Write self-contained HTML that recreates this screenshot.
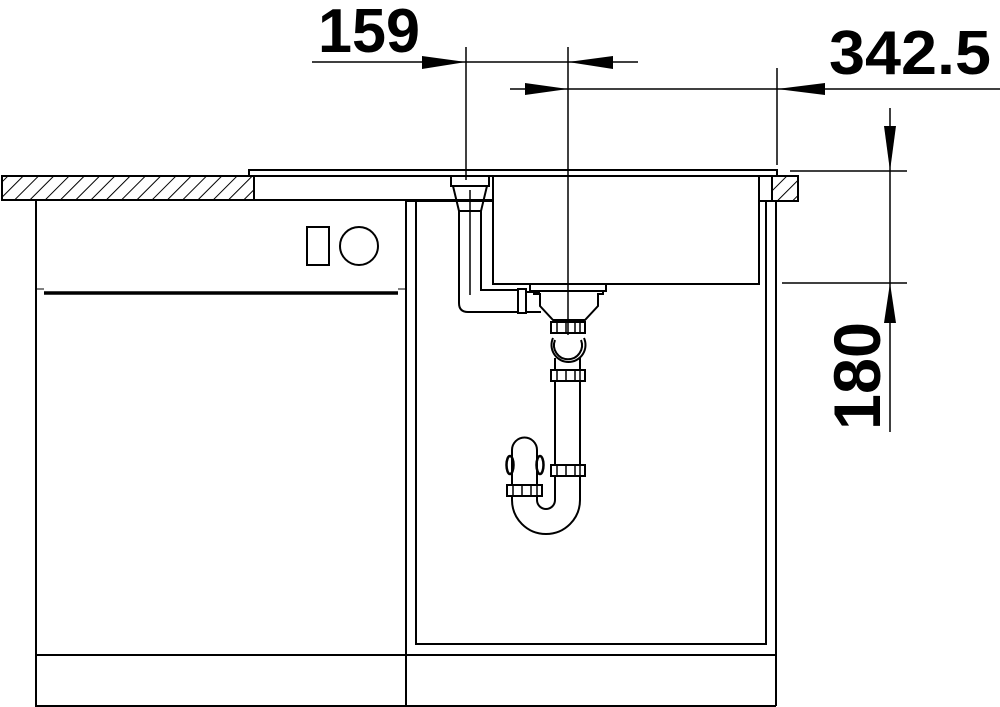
<!DOCTYPE html>
<html><head><meta charset="utf-8"><style>
html,body{margin:0;padding:0;background:#fff}
svg{display:block}
text{font-family:"Liberation Sans",Arial,sans-serif;font-weight:bold;fill:#000}
</style></head><body>
<svg width="1000" height="707" viewBox="0 0 1000 707" xmlns="http://www.w3.org/2000/svg">
<defs>
<pattern id="h" patternUnits="userSpaceOnUse" width="10.8" height="10.8" patternTransform="rotate(45)">
<rect width="10.8" height="10.8" fill="#fff"/><line x1="0" y1="0" x2="0" y2="10.8" stroke="#000" stroke-width="2"/>
</pattern>
</defs>
<g fill="none" stroke="#000" stroke-width="2">
<rect x="2" y="176" width="252" height="24" fill="url(#h)"/>
<rect x="772" y="176" width="26" height="25" fill="url(#h)"/>
<rect x="759" y="176" width="13" height="25"/>
<polyline points="249,176 249,170 777,170 777,176"/>
<line x1="249" y1="176" x2="759" y2="176"/>
<line x1="254" y1="200" x2="493" y2="200"/>
<polyline points="36,200 36,706 406,706"/>
<line x1="36" y1="655" x2="776" y2="655"/>
<line x1="406" y1="200" x2="406" y2="706"/>
<line x1="44" y1="293" x2="398" y2="293" stroke-width="3.5"/>
<line x1="36" y1="289" x2="44" y2="289" stroke-width="1"/>
<line x1="398" y1="289" x2="406" y2="289" stroke-width="1"/>
<rect x="307" y="227" width="22" height="38"/>
<circle cx="359" cy="246" r="19"/>
<polyline points="416,201 416,644 766,644 766,201"/>
<line x1="776" y1="201" x2="776" y2="706"/>
<line x1="406" y1="201" x2="493" y2="201"/>
<line x1="36" y1="706" x2="776" y2="706"/>
<polyline points="493,176 493,284 759,284 759,176"/>
<rect x="451" y="176" width="38" height="10"/>
<polyline points="453,186 459,211 481,211 487,186"/>
<path d="M459,211 V303 Q459,312 468,312 H518"/>
<path d="M481,211 V290 H518"/>
<rect x="518" y="289" width="8" height="24"/>
<line x1="526" y1="292" x2="540" y2="292"/>
<line x1="526" y1="312" x2="541" y2="312"/>
<line x1="470" y1="190" x2="470" y2="295" stroke-width="1.5"/>
<rect x="530" y="284" width="76" height="7"/>
<path d="M534,291 V294 H540 V306 L553,320 H585 L598,306 V294 H603 V291"/>
<g stroke-width="2">
<rect x="551" y="322" width="34" height="11"/>
<rect x="551" y="370" width="34" height="11"/>
<rect x="551" y="465" width="34" height="11"/>
<rect x="507" y="485" width="35" height="11"/>
</g>
<g stroke-width="1.5">
<line x1="557" y1="322" x2="557" y2="333"/><line x1="566" y1="322" x2="566" y2="333"/><line x1="575" y1="322" x2="575" y2="333"/><line x1="580" y1="322" x2="580" y2="333"/>
<line x1="557" y1="370" x2="557" y2="381"/><line x1="566" y1="370" x2="566" y2="381"/><line x1="575" y1="370" x2="575" y2="381"/><line x1="580" y1="370" x2="580" y2="381"/>
<line x1="557" y1="465" x2="557" y2="476"/><line x1="566" y1="465" x2="566" y2="476"/><line x1="575" y1="465" x2="575" y2="476"/><line x1="580" y1="465" x2="580" y2="476"/>
<line x1="513" y1="485" x2="513" y2="496"/><line x1="522" y1="485" x2="522" y2="496"/><line x1="531" y1="485" x2="531" y2="496"/><line x1="537" y1="485" x2="537" y2="496"/>
</g>
<path d="M553,338 A17,17 0 1 0 584,338"/>
<path d="M555,340 A14,14 0 1 0 581,340"/>
<line x1="555" y1="358" x2="555" y2="370"/><line x1="580" y1="358" x2="580" y2="370"/>
<line x1="555" y1="381" x2="555" y2="465"/><line x1="580" y1="381" x2="580" y2="465"/>
<line x1="555" y1="476" x2="555" y2="500"/><line x1="580" y1="476" x2="580" y2="500"/>
<path d="M512,496 V500 A34,34 0 0 0 580,500"/>
<path d="M537,496 V500 A9,9 0 0 0 555,500"/>
<path d="M512,485 V450 A12.5,12.5 0 0 1 537,450 V485"/>
<ellipse cx="510" cy="465" rx="3.5" ry="9" stroke-width="2.5"/>
<ellipse cx="540" cy="465" rx="3.5" ry="9" stroke-width="2.5"/>
<g stroke-width="1.5">
<line x1="312" y1="62" x2="638" y2="62"/>
<line x1="466" y1="47" x2="466" y2="180"/>
<line x1="568" y1="47" x2="568" y2="335"/>
<line x1="510" y1="89" x2="1000" y2="89"/>
<line x1="777" y1="68" x2="777" y2="165"/>
<line x1="890" y1="108" x2="890" y2="432"/>
<line x1="790" y1="171" x2="907" y2="171"/>
<line x1="782" y1="283" x2="907" y2="283"/>
</g>
</g>
<g fill="#000">
<polygon points="466,62 422,56 422,69"/>
<polygon points="568,62 613,56 613,69"/>
<polygon points="568,89 525,83 525,95"/>
<polygon points="777,89 825,83 825,95"/>
<polygon points="890,171 884,126 896,126"/>
<polygon points="890,283 884,323 896,323"/>
</g>
<text x="318" y="52" font-size="62" textLength="102" lengthAdjust="spacingAndGlyphs">159</text>
<text x="829" y="74" font-size="62" textLength="162" lengthAdjust="spacingAndGlyphs">342.5</text>
<text transform="translate(880,430) rotate(-90)" font-size="66" textLength="108" lengthAdjust="spacingAndGlyphs">180</text>
</svg>
</body></html>
